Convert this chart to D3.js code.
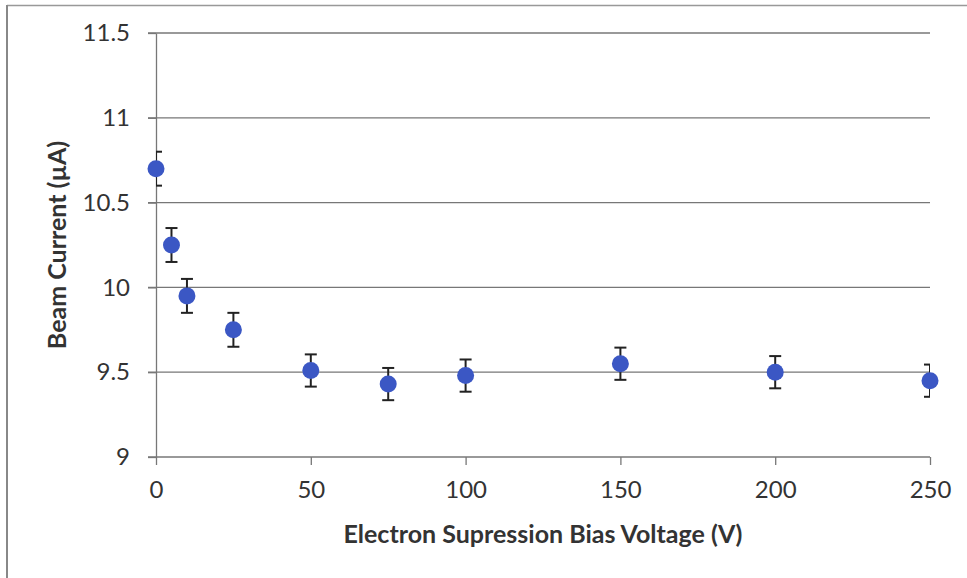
<!DOCTYPE html>
<html><head><meta charset="utf-8">
<script src="https://cdn.jsdelivr.net/npm/d3@7"></script>
<style>body{margin:0;background:#fff}svg{display:block}</style>
</head><body><svg id="c" width="967" height="578"></svg>
<script>
const voltages = [0, 5, 10, 25, 50, 75, 100, 150, 200, 250];
const currents = [10.70, 10.25, 9.95, 9.75, 9.51, 9.43, 9.48, 9.55, 9.50, 9.45];
const errors   = [0.1, 0.1, 0.1, 0.1, 0.095, 0.095, 0.095, 0.095, 0.095, 0.095];
const xTicks = [0, 50, 100, 150, 200, 250];
const yTicks = [9, 9.5, 10, 10.5, 11, 11.5];

const svg = d3.select("#c");
const font = "Lato, 'Open Sans', sans-serif";
const x = d3.scaleLinear().domain([0, 250]).range([156, 930]);
const y = d3.scaleLinear().domain([9, 11.5]).range([457, 33]);
const gridCol = "#777";

// outer frame
svg.append("line").attr("x1",7).attr("x2",967).attr("y1",5.5).attr("y2",5.5).attr("stroke","#999").attr("stroke-width",1.5);
svg.append("line").attr("x1",7).attr("x2",7).attr("y1",5).attr("y2",578).attr("stroke","#888").attr("stroke-width",2);

// gridlines
svg.append("g").selectAll("line").data(yTicks.filter(d=>d>9)).join("line")
  .attr("x1",148).attr("x2",930).attr("y1",d=>y(d)).attr("y2",d=>y(d))
  .attr("stroke",gridCol).attr("stroke-width",1.3);

// x axis
const gx = svg.append("g").attr("transform",`translate(0,${y(9)})`)
  .call(d3.axisBottom(x).tickValues(xTicks).tickSize(8).tickPadding(16).tickSizeOuter(0));
gx.select(".domain").attr("stroke",gridCol).attr("stroke-width",1.3).attr("d",`M148,0H930`);
gx.selectAll(".tick line").attr("stroke",gridCol).attr("stroke-width",1.3);
gx.selectAll("text").attr("font-family",font).attr("font-size",24).attr("fill","#333");

// y axis
const gy = svg.append("g").attr("transform",`translate(${x(0)},0)`)
  .call(d3.axisLeft(y).tickValues(yTicks).tickFormat(d3.format("")).tickSize(8).tickPadding(18).tickSizeOuter(0));
gy.select(".domain").attr("stroke",gridCol).attr("stroke-width",1.3);
gy.selectAll(".tick line").attr("stroke",gridCol).attr("stroke-width",1.3);
gy.selectAll("text").attr("font-family",font).attr("font-size",24).attr("fill","#333");

// error bars (clipped to plot area)
svg.append("clipPath").attr("id","pc").append("rect").attr("x",156).attr("y",0).attr("width",774).attr("height",578);
const eb = svg.append("g").attr("clip-path","url(#pc)").attr("stroke","#222").attr("stroke-width",2);
const data = voltages.map((v,i)=>({v, c:currents[i], e:errors[i]}));
eb.selectAll(".v").data(data).join("line").attr("x1",d=>x(d.v)).attr("x2",d=>x(d.v))
  .attr("y1",d=>y(d.c+d.e)).attr("y2",d=>y(d.c-d.e));
eb.selectAll(".t").data(data).join("line").attr("x1",d=>x(d.v)-6).attr("x2",d=>x(d.v)+6)
  .attr("y1",d=>y(d.c+d.e)).attr("y2",d=>y(d.c+d.e));
eb.selectAll(".b").data(data).join("line").attr("x1",d=>x(d.v)-6).attr("x2",d=>x(d.v)+6)
  .attr("y1",d=>y(d.c-d.e)).attr("y2",d=>y(d.c-d.e));

// points
svg.append("g").selectAll("circle").data(data).join("circle")
  .attr("cx",d=>x(d.v)).attr("cy",d=>y(d.c)).attr("r",8.5).attr("fill","#3B57C4");

// titles
svg.append("text").attr("x",543).attr("y",543).attr("text-anchor","middle")
  .attr("font-family",font).attr("font-weight","bold").attr("font-size",25).attr("fill","#333")
  .text("Electron Supression Bias Voltage (V)");
svg.append("text").attr("transform","translate(66,245) rotate(-90)").attr("text-anchor","middle")
  .attr("font-family",font).attr("font-weight","bold").attr("font-size",25).attr("fill","#333")
  .text("Beam Current (µA)");
</script></body></html>
